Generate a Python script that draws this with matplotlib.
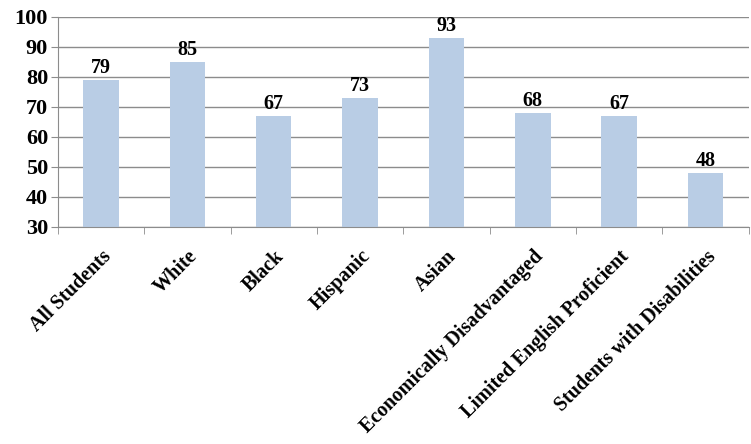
import matplotlib.pyplot as plt
import numpy as np

categories = ['All Students', 'White', 'Black', 'Hispanic', 'Asian',
              'Economically Disadvantaged', 'Limited English Proficient',
              'Students with Disabilities']
values = [79, 85, 67, 73, 93, 68, 67, 48]
yticks = [30, 40, 50, 60, 70, 80, 90, 100]

plt.rcParams['font.family'] = 'Liberation Serif'
plt.rcParams['font.weight'] = 'bold'

fig = plt.figure(figsize=(7.51, 4.44), dpi=100)
ax = fig.add_axes([0.077, 0.489, 0.92, 0.473])

x = np.arange(len(categories))
ax.bar(x, values, width=0.41, color='#B9CDE5', zorder=2)
for xi, v in zip(x, values):
    ax.text(xi, v + 0.6, str(v), ha='center', va='bottom', fontsize=14.5, fontweight='bold')

ax.set_xlim(-0.5, len(categories) - 0.5)
ax.set_ylim(30, 100)
ax.set_yticks(yticks)
ax.set_yticklabels([str(t) for t in yticks], fontsize=16, fontweight='bold')
ax.yaxis.grid(True, color='#8c8c8c', linewidth=1, zorder=0)

ax.set_xticks(x)
ax.set_xticklabels(categories, rotation=45, ha='right', rotation_mode='anchor',
                   fontsize=14.5, fontweight='bold')
ax.set_xticks(np.arange(-0.5, len(categories)), minor=True)
ax.tick_params(axis='x', which='major', length=0, pad=14)
ax.tick_params(axis='x', which='minor', length=5, color='#8c8c8c')
ax.tick_params(axis='y', length=5, color='#8c8c8c', pad=2)

for s in ['top', 'right']:
    ax.spines[s].set_visible(False)
for s in ['left', 'bottom']:
    ax.spines[s].set_color('#8c8c8c')

fig.savefig('out.png', dpi=100)
